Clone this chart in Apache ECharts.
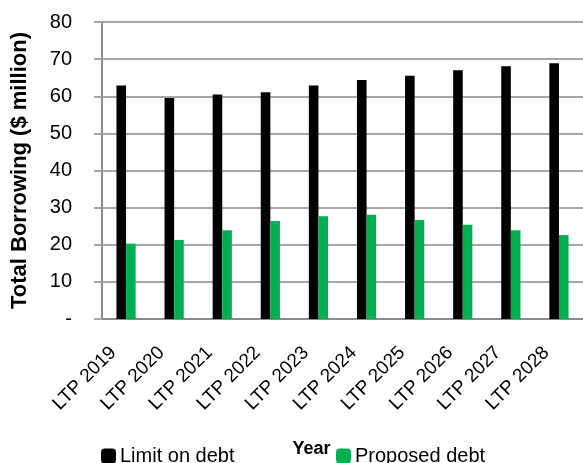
<!DOCTYPE html>
<html><head><meta charset="utf-8">
<script src="https://cdn.jsdelivr.net/npm/echarts@6/dist/echarts.min.js"></script>
<style>html,body{margin:0;padding:0;background:#fff}#c{width:583px;height:463px}</style>
</head><body><div id="c"></div>
<script>
var categories = ['LTP 2019','LTP 2020','LTP 2021','LTP 2022','LTP 2023','LTP 2024','LTP 2025','LTP 2026','LTP 2027','LTP 2028'];
var limitOnDebt = [62.9, 59.5, 60.5, 61.1, 62.9, 64.4, 65.5, 67.0, 68.1, 68.9];
var proposedDebt = [20.3, 21.3, 23.9, 26.4, 27.7, 28.1, 26.7, 25.4, 23.9, 22.6];
var seriesNames = ['Limit on debt', 'Proposed debt'];
var FONT = 'Liberation Sans';
var chart = echarts.init(document.getElementById('c'));
chart.setOption({
  animation: false,
  textStyle: {fontFamily: FONT},
  grid: {left: 102, right: 0, top: 22, bottom: 144, containLabel: false, outerBoundsMode: 'none'},
  legend: [
    {data: [seriesNames[0]], left: 96, top: 441, itemWidth: 15, itemHeight: 15, itemGap: 5,
     textStyle: {fontFamily: FONT, fontSize: 20, color: '#000', padding: [0,0,0,-1]}},
    {data: [seriesNames[1]], left: 331, top: 441, itemWidth: 15, itemHeight: 15, itemGap: 5,
     textStyle: {fontFamily: FONT, fontSize: 20, color: '#000', padding: [0,0,0,-1]}}
  ],
  xAxis: {
    type: 'category', data: categories,
    name: 'Year', nameLocation: 'middle', nameGap: 121,
    nameTextStyle: {fontFamily: FONT, fontWeight: 'bold', fontSize: 18, color: '#000', padding: [0, 62, 0, 0]},
    axisLine: {lineStyle: {color: '#8c8c8c', width: 2}},
    axisTick: {show: false},
    axisLabel: {interval: 0, rotate: 45, margin: 18, fontSize: 19, color: '#000', fontFamily: FONT,
      padding: [0, 18, 0, 0]}
  },
  yAxis: {
    type: 'value', min: 0, max: 80, interval: 10,
    name: 'Total Borrowing ($ million)', nameLocation: 'middle', nameGap: 71,
    nameTextStyle: {fontFamily: FONT, fontWeight: 'bold', fontSize: 22, color: '#000'},
    axisLine: {show: true, lineStyle: {color: '#8c8c8c', width: 2}},
    axisTick: {show: true, inside: false, length: 8, lineStyle: {color: '#a6a6a6', width: 2}},
    splitLine: {lineStyle: {color: '#a6a6a6', width: 2}},
    axisLabel: {margin: 30, fontSize: 20, color: '#000', fontFamily: FONT,
      formatter: function (v) { return v === 0 ? '-' : String(v); }}
  },
  series: [
    {name: seriesNames[0], type: 'bar', data: limitOnDebt, barWidth: 9.6, barGap: '0%',
     itemStyle: {color: '#000000'}},
    {name: seriesNames[1], type: 'bar', data: proposedDebt, barWidth: 9.6, barGap: '0%',
     itemStyle: {color: '#00B050'}}
  ]
});
</script></body></html>
